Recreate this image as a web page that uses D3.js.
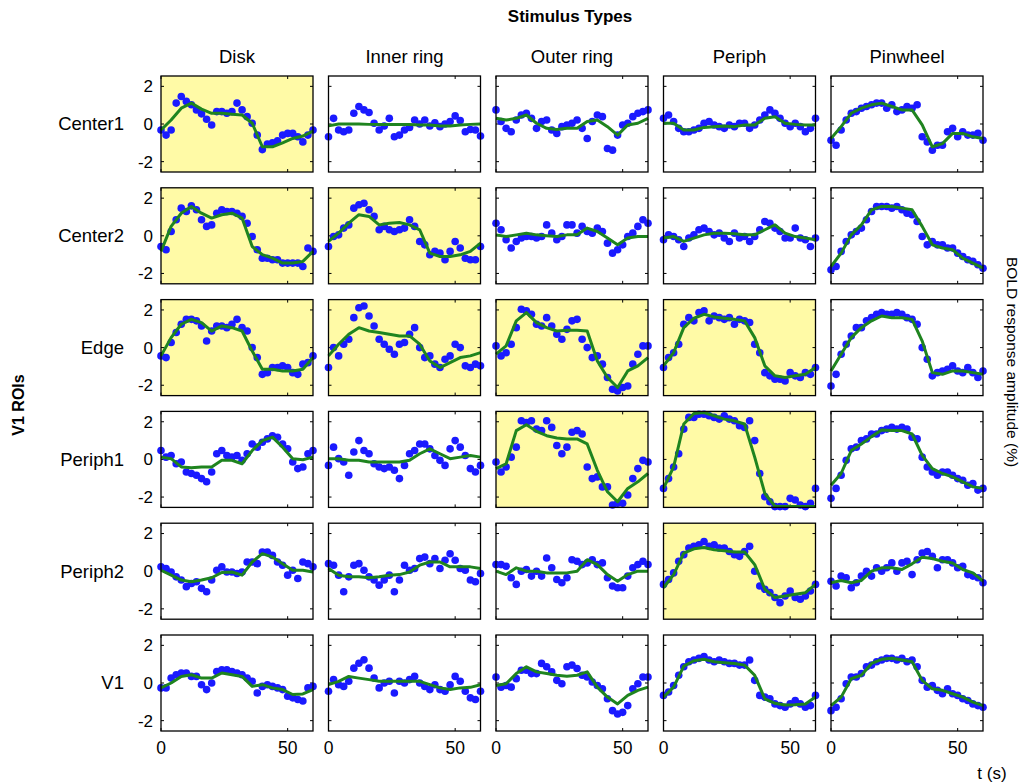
<!DOCTYPE html>
<html>
<head>
<meta charset="utf-8">
<script src="https://cdn.jsdelivr.net/npm/d3@7"></script>
<style>
    body { margin: 0; background: #fff; }
    svg text { font-family: "Liberation Sans", Arial, Helvetica, sans-serif; fill: #000; }
</style>
</head>
<body>
<div id="chart"></div>
<script>
const stimuli = ['Disk', 'Inner ring', 'Outer ring', 'Periph', 'Pinwheel'];
const rois = ['Center1', 'Center2', 'Edge', 'Periph1', 'Periph2', 'V1'];
// 1 = yellow panel
const highlighted = [
    [1, 0, 0, 0, 0],
    [1, 1, 0, 0, 0],
    [1, 1, 1, 1, 0],
    [0, 0, 1, 1, 0],
    [0, 0, 0, 1, 0],
    [0, 0, 0, 0, 0]
];
const fitTimes = [0, 4, 8, 12, 16, 20, 24, 28, 32, 36, 40, 44, 48, 52, 56, 60];
const dotTimes = [0, 2, 4, 6, 8, 10, 12, 14, 16, 18, 20, 22, 24, 26, 28, 30, 32, 34, 36, 38, 40, 42, 44, 46, 48, 50, 52, 54, 56, 58, 60];
const yTicks = [-2, 0, 2];
const xTicks = [0, 50];

// fitted response, one list per stimulus (Disk, Inner ring, Outer ring, Periph, Pinwheel)
const center1Fit = [
    [-0.32, 0.21, 0.84, 1.11, 0.79, 0.57, 0.57, 0.52, 0.48, 0.04, -1.21, -1.21, -1.0, -0.77, -0.64, -0.38],
    [-0.1, 0, 0, 0, -0.02, -0.03, -0.03, -0.03, -0.03, -0.05, -0.05, -0.1, -0.1, -0.05, -0.02, 0],
    [0.3, 0.21, 0.3, 0.48, 0.04, -0.23, -0.29, -0.23, -0.23, 0.13, 0.21, -0.14, -0.59, -0.05, 0.04, 0.3],
    [0.04, 0.04, -0.32, -0.32, -0.18, -0.14, -0.11, -0.14, -0.05, -0.05, 0.3, 0.39, 0.04, -0.02, -0.05, -0.05],
    [-0.77, -0.14, 0.57, 0.84, 1.02, 1.11, 0.93, 0.75, 0.75, -0.05, -1.21, -1.04, -0.5, -0.5, -0.68, -0.77]
];
const center1Dots = [
    [-0.32, -0.59, -0.32, 1.11, 1.46, 1.2, 1.02, 0.75, 0.54, 0.25, -0.05, 0.66, 0.66, 0.57, 0.66, 1.11, 0.75, 0.39, 0.04, -0.59, -1.36, -1.07, -1.0, -0.89, -0.59, -0.5, -0.5, -0.68, -0.95, -0.59, -0.32],
    [-0.68, 0.3, -0.32, -0.41, -0.32, 0.57, 0.93, 0.75, 0.61, 0.04, -0.32, -0.11, 0.3, -0.68, -0.59, -0.32, -0.18, 0.21, 0, 0.21, -0.11, 0.07, -0.14, 0, 0.13, 0.43, 0.18, -0.41, -0.29, -0.32, -0.64],
    [0.75, 0.13, -0.23, -0.41, 0.21, 0.48, 0.57, 0.3, -0.23, 0.13, 0.21, -0.32, -0.5, -0.14, -0.05, 0.04, 0.21, -0.23, -0.77, 0.13, 0.48, 0.39, -1.3, -1.39, -0.59, -0.05, 0.04, 0.39, 0.57, 0.66, 0.75],
    [0.3, 0.48, 0.13, -0.23, -0.41, -0.41, -0.32, -0.23, 0.04, 0.13, -0.05, -0.14, -0.23, -0.05, -0.14, 0.04, 0.04, -0.23, -0.05, 0.21, 0.48, 0.75, 0.57, 0.3, 0.04, -0.14, 0.04, -0.14, -0.41, -0.23, 0.3],
    [-0.86, -1.13, -0.32, 0.21, 0.57, 0.66, 0.84, 0.93, 1.02, 1.11, 1.11, 0.84, 1.02, 0.66, 0.75, 0.93, 0.84, 1.02, -0.68, -0.95, -1.39, -1.13, -1.13, -0.41, -0.23, -0.68, -0.41, -0.59, -0.59, -0.5, -0.86]
];

const center2Fit = [
    [-0.83, 0.5, 1.2, 1.56, 1.2, 0.94, 1.12, 1.2, 0.94, -0.57, -1.0, -1.19, -1.45, -1.45, -1.36, -0.83],
    [-0.3, 0.14, 0.67, 1.12, 1.03, 0.58, 0.67, 0.71, 0.58, 0.32, -0.92, -1.1, -1.1, -1.01, -0.83, -0.39],
    [0.05, -0.04, 0.05, 0.14, 0.05, 0, -0.04, 0.05, 0.05, 0.41, 0.23, -0.12, -0.48, -0.12, -0.04, -0.04],
    [-0.12, -0.04, -0.3, -0.12, 0.05, 0.14, 0.14, 0.11, 0.05, 0.05, 0.32, 0.58, 0.14, -0.04, -0.12, -0.21],
    [-1.63, -0.92, 0.05, 0.58, 1.38, 1.56, 1.56, 1.47, 1.38, 0.5, -0.48, -0.65, -0.74, -1.19, -1.45, -1.72]
];
const center2Dots = [
    [-0.57, -0.74, 0.23, 0.85, 1.47, 1.29, 1.59, 1.38, 0.85, 0.5, 0.58, 1.2, 1.38, 1.29, 1.29, 1.2, 1.03, 0.67, -0.04, -0.74, -1.19, -1.19, -1.27, -1.27, -1.45, -1.45, -1.45, -1.45, -1.63, -0.65, -0.83],
    [-0.57, -0.04, 0.05, 0.41, 0.58, 1.47, 1.65, 1.73, 1.38, 1.03, 0.32, 0.5, 0.32, 0.23, 0.32, 0.41, 0.85, 0.5, -0.3, -0.48, -1.01, -0.83, -0.92, -1.27, -0.83, -0.3, -0.65, -1.19, -1.27, -1.27, -0.57],
    [0.67, 0.32, -0.21, -0.65, -0.3, -0.12, -0.04, -0.04, -0.12, -0.04, 0.58, 0.14, -0.21, -0.04, 0.58, 0.58, 0.14, 0.5, 0.23, 0.14, 0.41, 0.23, -0.39, -0.92, -0.74, -0.48, -0.04, 0.14, 0.5, 0.85, 0.67],
    [-0.21, 0.05, -0.04, -0.21, -0.57, -0.12, 0.05, 0.32, 0.41, 0.23, 0.05, 0.14, -0.12, -0.3, 0.14, -0.12, -0.04, -0.3, -0.04, 0.32, 0.76, 0.67, 0.41, 0.23, -0.12, -0.12, 0.41, -0.12, -0.21, -0.57, -0.12],
    [-1.81, -1.63, -0.83, -0.3, 0.05, 0.23, 0.41, 0.85, 1.29, 1.56, 1.56, 1.56, 1.47, 1.56, 1.38, 1.2, 1.12, 0.76, -0.04, -0.48, -0.3, -0.48, -0.48, -0.65, -0.65, -0.92, -1.1, -1.27, -1.36, -1.54, -1.72]
];

const edgeFit = [
    [-0.44, 0.53, 1.24, 1.5, 1.33, 0.88, 1.15, 1.06, 0.88, -0.18, -1.15, -1.15, -1.24, -1.24, -1.15, -0.53],
    [-0.44, 0.18, 0.71, 1.06, 0.88, 0.8, 0.71, 0.62, 0.62, 0.18, -0.71, -1.06, -0.8, -0.53, -0.44, -0.27],
    [-0.35, 0.09, 1.42, 1.86, 1.33, 1.06, 0.88, 0.92, 0.92, 0.88, -0.71, -1.59, -2.12, -1.24, -0.97, -0.53],
    [-0.97, -0.27, 1.06, 1.56, 1.77, 1.63, 1.56, 1.5, 1.42, 0.53, -0.97, -1.5, -1.59, -1.5, -1.42, -1.06],
    [-1.24, -0.35, 0.53, 1.06, 1.42, 1.68, 1.59, 1.59, 1.5, 0.35, -1.33, -1.42, -1.24, -1.24, -1.33, -1.42]
];
const edgeDots = [
    [-0.44, -0.53, 0.27, 0.8, 1.24, 1.5, 1.5, 1.42, 1.15, 0.35, 0.88, 1.15, 1.15, 1.06, 1.24, 1.5, 1.06, 0.88, 0, -0.53, -1.42, -1.33, -1.06, -1.06, -0.97, -1.06, -1.33, -1.42, -0.88, -0.8, -0.44],
    [-1.06, 0, -0.44, 0.18, 0.44, 1.59, 2.12, 2.21, 1.68, 1.15, 0.44, 0.18, -0.09, -0.35, 0.18, 0.27, 0.71, 1.06, 0, -0.53, -0.44, -0.88, -1.06, -0.62, -0.44, 0.18, 0, -0.97, -1.06, -0.88, -0.97],
    [0.09, -0.44, -0.27, 0.18, 1.06, 2.04, 1.95, 1.77, 1.24, 1.15, 1.59, 1.15, 0.71, 0.44, 0.97, 1.42, 1.5, 0.44, 0, -0.53, -0.44, -0.88, -1.59, -2.21, -2.3, -2.12, -2.04, -0.88, -0.35, 0.09, 0.09],
    [-1.06, -0.53, -0.27, 0.18, 1.24, 1.59, 1.42, 1.86, 1.95, 1.42, 1.68, 1.59, 1.5, 1.59, 1.24, 1.5, 1.42, 1.33, 0.18, -0.27, -1.33, -1.5, -1.68, -1.68, -1.77, -1.33, -1.5, -1.59, -1.33, -1.42, -1.06],
    [-2.04, -1.42, -0.35, 0.18, 0.62, 1.06, 1.06, 1.42, 1.59, 1.77, 1.86, 1.77, 1.77, 1.86, 1.77, 1.59, 1.5, 1.24, 0, -0.62, -1.5, -1.33, -1.24, -1.15, -0.97, -1.24, -1.33, -1.06, -1.33, -1.59, -1.24]
];

const periph1Fit = [
    [0.12, 0.04, -0.4, -0.44, -0.4, -0.4, -0.05, -0.05, -0.23, 0.47, 1.0, 1.18, 0.65, 0.04, -0.02, 0.12],
    [0.04, 0.04, -0.05, -0.05, -0.14, -0.14, -0.14, -0.14, -0.05, 0.3, 0.56, 0.3, 0.04, 0.12, 0.21, 0.12],
    [-0.49, -0.23, 1.53, 1.84, 1.49, 1.26, 1.14, 1.09, 1.09, 0.82, -0.58, -1.72, -2.25, -1.54, -1.19, -0.75],
    [-1.54, -0.4, 1.88, 2.44, 2.49, 2.32, 2.14, 2.05, 1.88, 0.12, -1.81, -2.49, -2.5, -2.5, -2.5, -2.5],
    [-1.37, -0.75, 0.47, 0.82, 1.21, 1.56, 1.53, 1.53, 1.35, 0.21, -0.49, -0.75, -0.93, -1.19, -1.46, -1.54]
];
const periph1Dots = [
    [0.47, 0.12, 0.21, -0.23, -0.14, -0.67, -0.75, -0.84, -1.02, -1.19, -0.67, 0.3, 0.47, 0.21, 0.12, 0.21, -0.05, 0.3, 0.82, 0.65, 0.91, 1.09, 1.26, 1.18, 0.82, 0.56, -0.14, -0.49, -0.4, 0.3, 0.47],
    [-0.32, 0.65, 0.04, -0.14, -0.84, 0.39, 1.0, 0.47, 0.3, -0.23, -0.4, -0.49, -0.4, -0.58, -1.02, -0.32, 0.3, 0.47, 0.82, 0.82, 0.56, 0.21, -0.05, -0.32, 0.56, 1.0, 0.65, 0.21, -0.49, -0.67, -0.32],
    [-0.14, -0.67, -0.4, 0.12, 0.65, 2.05, 1.96, 2.05, 1.61, 1.53, 2.05, 1.7, 0.74, 0.3, 0.65, 1.44, 1.53, 1.35, -0.4, -1.02, -0.93, -1.46, -1.46, -2.42, -2.33, -2.33, -1.89, -1.02, -0.49, -0.05, -0.14],
    [-1.54, -1.02, -0.4, 0.3, 1.61, 2.23, 2.23, 2.4, 2.4, 2.32, 2.23, 2.14, 2.32, 2.14, 2.05, 1.79, 1.7, 2.05, 1.0, -0.75, -1.98, -2.25, -2.51, -2.51, -2.51, -2.07, -2.16, -2.42, -2.51, -2.33, -1.54],
    [-2.07, -1.54, -0.84, -0.05, 0.56, 0.65, 1.0, 1.09, 1.35, 1.35, 1.53, 1.61, 1.7, 1.61, 1.7, 1.61, 1.18, 1.09, 0.12, -0.4, -0.67, -0.84, -0.67, -0.67, -0.84, -1.02, -1.11, -1.37, -1.28, -1.63, -1.54]
];

const periph2Fit = [
    [0.05, -0.21, -0.47, -0.56, -0.47, -0.35, -0.07, -0.04, -0.21, 0.49, 0.93, 0.75, 0.4, 0.05, 0.05, -0.04],
    [0.14, -0.21, -0.3, -0.3, -0.35, -0.3, -0.21, -0.18, -0.04, 0.32, 0.49, 0.49, 0.23, 0.23, 0.23, 0.14],
    [0, -0.18, 0.18, 0, 0, -0.09, -0.09, -0.09, 0, 0.61, 0.35, -0.18, -0.53, -0.18, 0, 0],
    [-0.88, -0.18, 0.96, 1.19, 1.26, 1.14, 1.09, 1.02, 1.02, 0.35, -0.96, -1.4, -1.32, -1.23, -1.14, -0.7],
    [-0.61, -0.49, -0.61, -0.49, 0, 0.18, 0.18, 0.09, 0.39, 0.74, 0.67, 0.53, 0.44, 0.09, -0.09, -0.53]
];
const periph2Dots = [
    [0.23, 0.14, -0.04, -0.3, -0.47, -0.82, -0.65, -0.56, -0.91, -1.09, -0.47, 0.05, 0.23, -0.04, -0.04, -0.12, -0.04, 0.49, 0.49, 0.4, 1.02, 1.02, 0.84, 0.49, 0.32, -0.21, 0.05, -0.39, 0.49, 0.4, 0.23],
    [0.4, 0.32, -0.21, -1.09, -0.3, 0.32, 0.4, 0.05, -0.3, -0.47, -0.74, -0.47, -0.21, -1.09, -0.47, 0.32, 0.05, 0.14, 0.67, 0.75, 0.4, 0.67, 0.14, 0.58, 0.93, 0.58, 0.14, 0.05, -0.47, -0.56, -0.12],
    [0.35, 0.35, 0.26, -0.35, -0.7, 0, 0.09, -0.26, 0, -0.26, 0.7, 0.18, -0.44, -0.61, -0.35, 0.61, 0.53, 0.35, 0.44, 0.61, 0.35, 0.44, -0.35, -0.79, -0.88, -0.88, -0.26, 0.18, 0.35, 0.53, 0.35],
    [-0.7, -0.44, -0.09, 0.53, 0.88, 1.23, 1.32, 1.4, 1.58, 1.32, 1.4, 1.23, 1.23, 1.05, 0.88, 0.79, 1.05, 1.32, 0, -0.79, -0.96, -1.14, -1.4, -1.67, -1.32, -1.05, -1.4, -1.49, -1.32, -1.05, -0.7],
    [-0.53, -0.79, -0.26, -0.35, -0.88, -0.61, -0.26, 0, -0.26, 0.18, 0, 0.18, 0.44, 0, 0.44, 0.53, -0.18, 0.61, 0.96, 1.05, 0.79, 0.18, 0.61, 0.61, 0.44, 0.18, 0.26, -0.18, -0.26, -0.35, -0.61]
];

const v1Fit = [
    [-0.26, 0, 0.35, 0.44, 0.26, 0.26, 0.53, 0.44, 0.35, -0.18, -0.09, -0.26, -0.35, -0.61, -0.58, -0.35],
    [-0.09, 0.09, 0.35, 0.26, 0.18, 0.09, 0.09, 0.09, 0.09, 0.09, -0.09, -0.26, -0.35, -0.26, -0.23, -0.09],
    [-0.13, -0.04, 0.5, 0.86, 0.59, 0.5, 0.41, 0.36, 0.41, 0.59, -0.22, -0.75, -1.11, -0.66, -0.39, -0.22],
    [-0.75, -0.22, 0.9, 1.18, 1.26, 1.13, 1.08, 1.04, 0.95, 0.41, -0.84, -1.08, -1.17, -1.15, -1.11, -0.75],
    [-1.2, -0.75, 0.23, 0.41, 1.04, 1.26, 1.31, 1.22, 1.13, 0.14, -0.31, -0.39, -0.57, -0.75, -1.02, -1.2]
];
const v1Dots = [
    [-0.26, -0.26, 0.26, 0.44, 0.53, 0.53, 0.35, 0.35, -0.09, -0.35, 0, 0.61, 0.7, 0.7, 0.61, 0.53, 0.44, 0.26, 0.09, -0.53, -0.18, -0.09, -0.18, -0.26, -0.35, -0.7, -0.79, -0.88, -0.96, -0.26, -0.18],
    [-0.44, 0.18, -0.09, -0.18, 0.09, 0.79, 1.05, 1.23, 0.79, 0.26, -0.26, 0, 0.09, -0.53, 0.09, 0, 0.18, 0.35, 0, -0.18, -0.35, -0.09, -0.35, -0.44, -0.09, 0.35, 0.09, -0.44, -0.79, -0.88, -0.44],
    [0.32, -0.22, -0.13, -0.22, 0.23, 0.68, 0.68, 0.5, 0.5, 1.04, 0.86, 0.59, 0.14, -0.04, 0.86, 0.95, 0.77, 0.41, 0.32, 0.05, -0.13, -0.31, -0.84, -1.47, -1.65, -1.56, -1.2, -0.31, -0.04, 0.32, 0.32],
    [-0.66, -0.48, -0.13, 0.41, 0.86, 1.13, 1.22, 1.31, 1.4, 1.22, 1.13, 1.22, 1.13, 1.04, 1.04, 0.95, 0.95, 1.22, 0.14, -0.66, -0.75, -0.84, -1.11, -1.2, -1.29, -1.11, -0.93, -1.11, -1.29, -1.2, -0.66],
    [-1.47, -1.29, -0.84, -0.04, 0.32, 0.32, 0.5, 0.86, 0.95, 1.13, 1.22, 1.31, 1.31, 1.22, 1.31, 1.13, 1.22, 0.86, 0.14, -0.22, -0.13, -0.39, -0.57, -0.31, -0.57, -0.66, -0.84, -0.93, -1.11, -1.2, -1.29]
];

const fits = [center1Fit, center2Fit, edgeFit, periph1Fit, periph2Fit, v1Fit];
const dots = [center1Dots, center2Dots, edgeDots, periph1Dots, periph2Dots, v1Dots];

const W = 1026, H = 784;
const panel = { left: 161, top: 76, w: 152, h: 96, stepX: 167.5, stepY: 111.8 };
const tickLen = 3;

const svg = d3.select('#chart').append('svg')
    .attr('width', W)
    .attr('height', H);

const x = d3.scaleLinear().domain([0, 60]).range([0, panel.w]);
const y = d3.scaleLinear().domain([-2.55, 2.55]).range([panel.h, 0]);

const line = d3.line()
    .x((d, i) => x(fitTimes[i]))
    .y(d => y(d));

rois.forEach((roi, r) => {
    stimuli.forEach((stim, c) => {
        const g = svg.append('g')
            .attr('transform', `translate(${panel.left + c * panel.stepX},${panel.top + r * panel.stepY})`);

        g.append('rect')
            .attr('width', panel.w)
            .attr('height', panel.h)
            .attr('fill', highlighted[r][c] ? '#fffaa6' : '#fff');

        // inside ticks on all four sides (box on)
        const ticks = g.append('g').attr('stroke', '#000').attr('stroke-width', 1);
        xTicks.forEach(t => {
            ticks.append('line').attr('x1', x(t)).attr('x2', x(t)).attr('y1', panel.h).attr('y2', panel.h - tickLen);
            ticks.append('line').attr('x1', x(t)).attr('x2', x(t)).attr('y1', 0).attr('y2', tickLen);
        });
        yTicks.forEach(t => {
            ticks.append('line').attr('x1', 0).attr('x2', tickLen).attr('y1', y(t)).attr('y2', y(t));
            ticks.append('line').attr('x1', panel.w).attr('x2', panel.w - tickLen).attr('y1', y(t)).attr('y2', y(t));
        });

        g.selectAll('.dot')
            .data(dots[r][c])
            .enter()
            .append('circle')
            .attr('class', 'dot')
            .attr('cx', (d, i) => x(dotTimes[i]))
            .attr('cy', d => y(d))
            .attr('r', 3.8)
            .attr('fill', '#1a1aff');

        g.append('path')
            .datum(fits[r][c])
            .attr('fill', 'none')
            .attr('stroke', '#1f841f')
            .attr('stroke-width', 3)
            .attr('stroke-linejoin', 'round')
            .attr('d', line);

        g.append('rect')
            .attr('width', panel.w)
            .attr('height', panel.h)
            .attr('fill', 'none')
            .attr('stroke', '#000')
            .attr('stroke-width', 1.3);

        if (c === 0) {
            g.selectAll('.ylab')
                .data(yTicks)
                .enter()
                .append('text')
                .attr('x', -8)
                .attr('y', d => y(d))
                .attr('dy', '0.35em')
                .attr('text-anchor', 'end')
                .style('font-size', '17px')
                .text(d => d);

            g.append('text')
                .attr('x', -37)
                .attr('y', panel.h / 2)
                .attr('dy', '0.35em')
                .attr('text-anchor', 'end')
                .style('font-size', '18.5px')
                .text(roi);
        }
        if (r === 0) {
            g.append('text')
                .attr('x', panel.w / 2)
                .attr('y', -13)
                .attr('text-anchor', 'middle')
                .style('font-size', '18.5px')
                .text(stim);
        }
        if (r === rois.length - 1) {
            g.selectAll('.xlab')
                .data(xTicks)
                .enter()
                .append('text')
                .attr('x', d => x(d))
                .attr('y', panel.h + 23)
                .attr('text-anchor', 'middle')
                .style('font-size', '17.5px')
                .text(d => d);
        }
    });
});

svg.append('text')
    .attr('x', 570)
    .attr('y', 22)
    .attr('text-anchor', 'middle')
    .style('font-size', '17px')
    .style('font-weight', 'bold')
    .text('Stimulus Types');

svg.append('text')
    .attr('transform', 'translate(24,405) rotate(-90)')
    .attr('text-anchor', 'middle')
    .style('font-size', '16px')
    .style('font-weight', 'bold')
    .text('V1 ROIs');

svg.append('text')
    .attr('transform', 'translate(1007,362) rotate(90)')
    .attr('text-anchor', 'middle')
    .style('font-size', '15.5px')
    .text('BOLD response amplitude (%)');

svg.append('text')
    .attr('x', 992)
    .attr('y', 779)
    .attr('text-anchor', 'middle')
    .style('font-size', '17px')
    .text('t (s)');
</script>
</body>
</html>
